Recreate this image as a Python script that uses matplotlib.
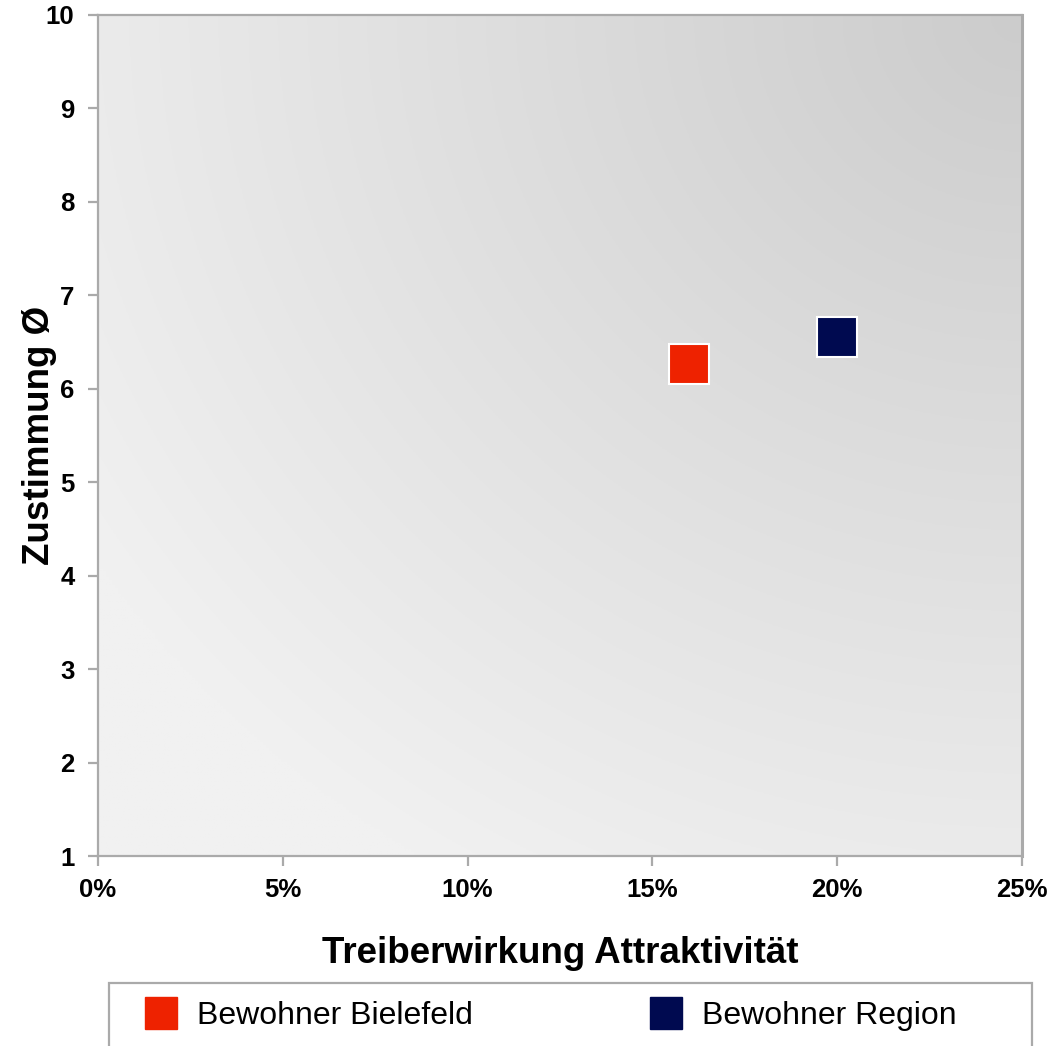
import numpy as np
import matplotlib
matplotlib.use("Agg")
import matplotlib.pyplot as plt
from matplotlib.lines import Line2D
from matplotlib.patches import Rectangle
from matplotlib.ticker import FuncFormatter

plt.rcParams['font.family'] = ['Liberation Sans', 'DejaVu Sans']

# data
groups = ['Bewohner Bielefeld', 'Bewohner Region']
treiber = [16.0, 20.0]      # Treiberwirkung in %
zustimmung = [6.27, 6.55]   # Zustimmung Ø
colors = ['#ee2200', '#000a50']

x_ticks = [0, 5, 10, 15, 20, 25]
y_ticks = [1, 2, 3, 4, 5, 6, 7, 8, 9, 10]

W, H = 1062, 1046
fig = plt.figure(figsize=(W / 100, H / 100), dpi=100)
ax = fig.add_axes([98 / W, 1 - 856 / H, (1022 - 98) / W, (856 - 15) / H])

# background gradient, darkest in the upper right corner
gx, gy = np.meshgrid(np.linspace(0, 1, 300), np.linspace(0, 1, 300))
d = np.sqrt((1 - gx) ** 2 + (1 - gy) ** 2)
shade = np.minimum(204 + 31 * d, 241) / 255.0
ax.imshow(np.dstack([shade, shade, shade]), extent=[0, 25, 1, 10],
          origin='lower', aspect='auto', zorder=0)

for name, xv, yv, c in zip(groups, treiber, zustimmung, colors):
    ax.plot(xv, yv, marker='s', linestyle='none', markersize=29,
            markerfacecolor=c, markeredgecolor='white', markeredgewidth=1.5,
            zorder=3, label=name)

ax.set_xlim(0, 25)
ax.set_ylim(1, 10)
ax.set_xticks(x_ticks)
ax.set_yticks(y_ticks)
ax.xaxis.set_major_formatter(FuncFormatter(lambda v, p: f"{v:.0f}%"))

for s in ax.spines.values():
    s.set_color('#aaaaaa')
    s.set_linewidth(1.6)
ax.spines['right'].set_linewidth(2.2)

ax.tick_params(axis='both', colors='#aaaaaa', length=7, width=1.6,
               labelcolor='black', labelsize=18.5)
ax.tick_params(axis='x', pad=9)
ax.tick_params(axis='y', pad=10)
for lab in ax.get_xticklabels() + ax.get_yticklabels():
    lab.set_fontweight('bold')

ax.set_xlabel('Treiberwirkung Attraktivität', fontsize=26.5,
              fontweight='bold', labelpad=24)
ax.set_ylabel('Zustimmung Ø', fontsize=26.5, fontweight='bold')
ax.yaxis.set_label_coords((57 - 98) / 924, 0.5)

# legend frame, cut off at the bottom of the picture
fig.patches.append(Rectangle((109 / W, -0.05), (1032 - 109) / W,
                             (H - 983) / H + 0.05, transform=fig.transFigure,
                             facecolor='white', edgecolor='#aaaaaa',
                             linewidth=1.6, zorder=0))

handles = [Line2D([], [], marker='s', linestyle='none', markersize=23,
                  markerfacecolor=c, markeredgecolor=c) for c in colors]
fig.legend(handles, groups, loc='center left',
           bbox_to_anchor=(145 / W, 1 - 1016 / H), ncol=2, frameon=False,
           fontsize=23, borderpad=0, handlelength=1.0, handletextpad=0.64,
           columnspacing=5.53, borderaxespad=0)

fig.savefig('out.png', dpi=100)
